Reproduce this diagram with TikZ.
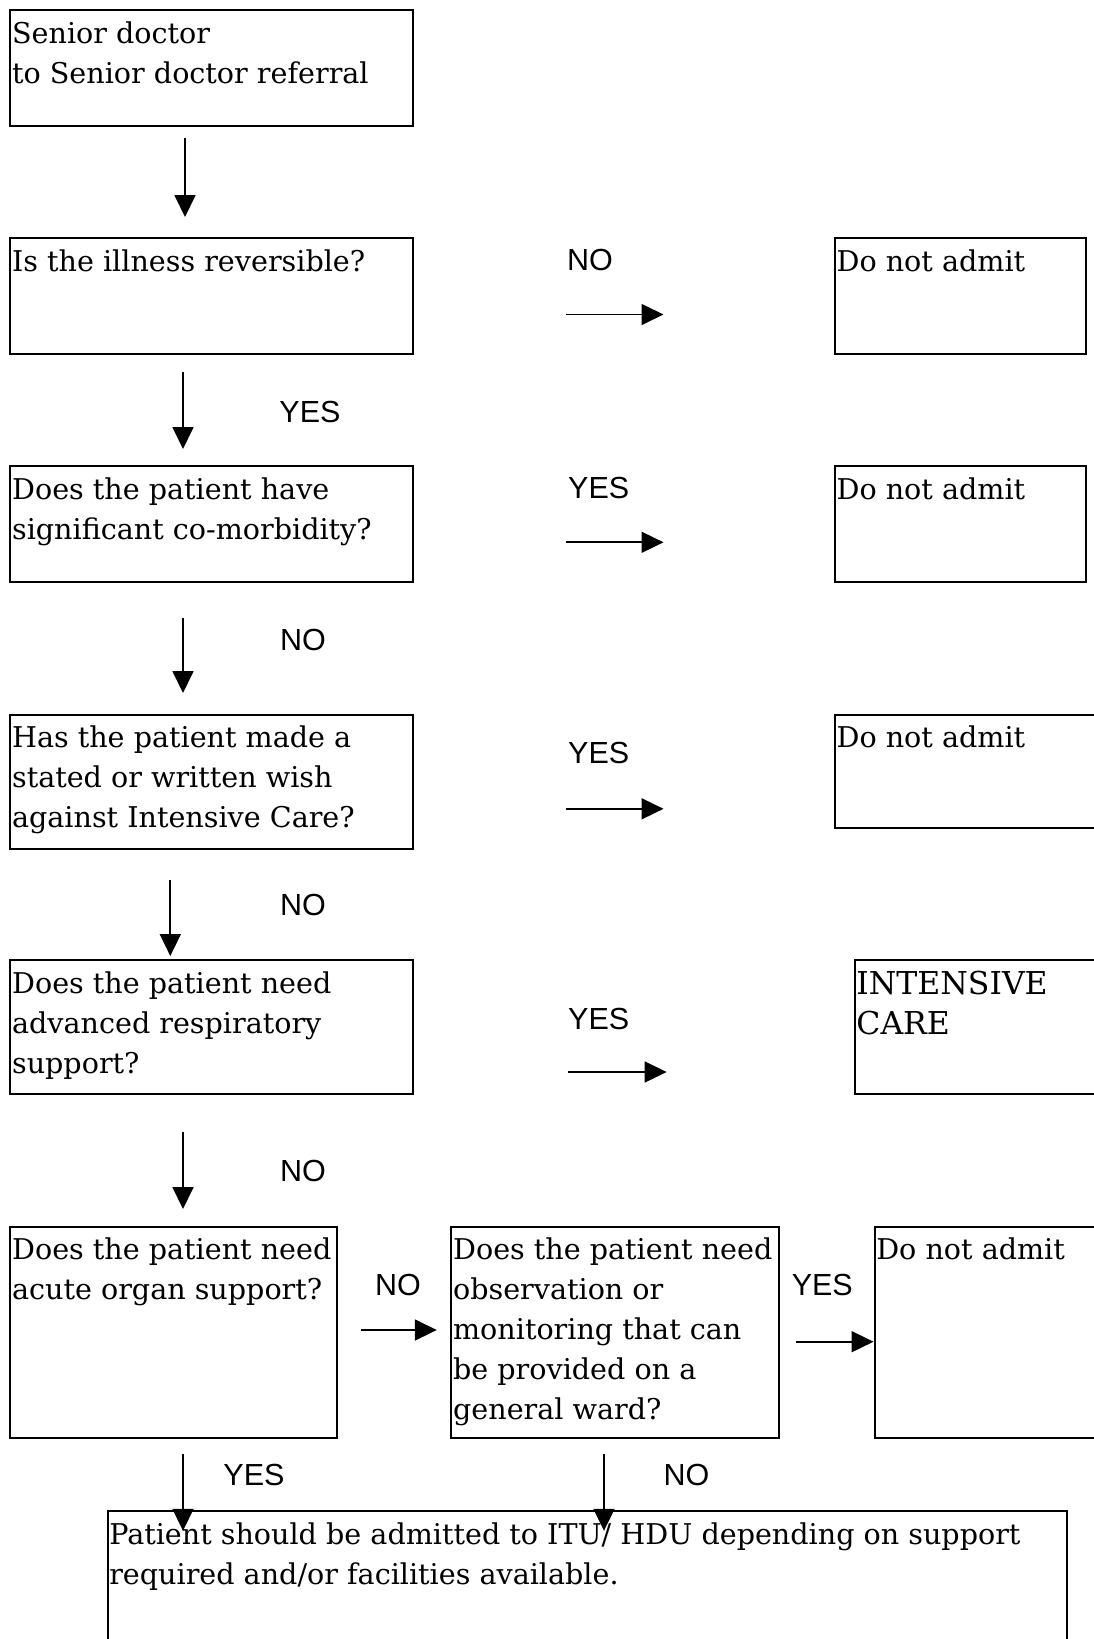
\documentclass[tikz,border=0pt]{standalone}
\usepackage{fontspec}
\setmainfont{DejaVu Serif}
\newfontfamily\labelfont{Liberation Sans}
\usetikzlibrary{arrows.meta}
\begin{document}
\begin{tikzpicture}[x=1pt,y=-1pt,
  box/.style={draw, line width=2pt, inner sep=0pt, outer sep=0pt, anchor=north west},
  txt/.style={anchor=north west, inner sep=0pt, xshift=1.5pt, align=left, font=\fontsize{28.6}{40}\selectfont},
  lbl/.style={font=\labelfont\fontsize{30.5}{34}\selectfont, inner sep=0pt},
  arr/.style={line width=1.8pt, -{Triangle[length=22pt,width=21pt]}}]
\clip (0,0) rectangle (1094,1639);
% boxes
\node[box, minimum width=402.3pt, minimum height=116pt] (b1) at (10.4,10.4) {};
\node[box, minimum width=402.3pt, minimum height=116pt] (b2) at (10.4,238.2) {};
\node[box, minimum width=402.3pt, minimum height=116pt] (b3) at (10.4,466) {};
\node[box, minimum width=402.3pt, minimum height=133.8pt] (b4) at (10.4,714.7) {};
\node[box, minimum width=402.3pt, minimum height=133.7pt] (b5) at (10.4,960.3) {};
\node[box, minimum width=326.1pt, minimum height=211.1pt] (b6) at (10.4,1226.7) {};
\node[box, minimum width=327.1pt, minimum height=211.1pt] (b7) at (451.4,1226.7) {};
\node[box, minimum width=300pt, minimum height=211.1pt] (b8) at (874.6,1226.7) {};
\node[box, minimum width=250.7pt, minimum height=116pt] (ra) at (834.9,238.2) {};
\node[box, minimum width=250.7pt, minimum height=116pt] (rb) at (834.9,466) {};
\node[box, minimum width=300pt, minimum height=113.5pt] (rc) at (834.9,714.7) {};
\node[box, minimum width=300pt, minimum height=133.7pt] (ic) at (854.7,960.3) {};
\node[box, minimum width=959.2pt, minimum height=200pt] (bot) at (107.6,1511) {};
% texts
\node[txt] (t1) at (b1.north west) {\rule{0pt}{33pt}Senior doctor\\to Senior doctor referral};
\node[txt] (t2) at (b2.north west) {\rule{0pt}{33pt}Is the illness reversible?};
\node[txt] (t3) at (b3.north west) {\rule{0pt}{33pt}Does the patient have\\significant co-morbidity?};
\node[txt] (t4) at (b4.north west) {\rule{0pt}{33pt}Has the patient made a\\stated or written wish\\against Intensive Care?};
\node[txt] (t5) at (b5.north west) {\rule{0pt}{33pt}Does the patient need\\advanced respiratory\\support?};
\node[txt] (t6) at (b6.north west) {\rule{0pt}{33pt}Does the patient need\\acute organ support?};
\node[txt] (t7) at (b7.north west) {\rule{0pt}{33pt}Does the patient need\\observation or\\monitoring that can\\be provided on a\\general ward?};
\node[txt] (t8) at (b8.north west) {\rule{0pt}{33pt}Do not admit};
\node[txt] (ta) at (ra.north west) {\rule{0pt}{33pt}Do not admit};
\node[txt] (tb) at (rb.north west) {\rule{0pt}{33pt}Do not admit};
\node[txt] (tc) at (rc.north west) {\rule{0pt}{33pt}Do not admit};
\node[txt, font=\fontsize{31.5}{40}\selectfont] (tic) at (ic.north west) {\rule{0pt}{34pt}INTENSIVE\\CARE};
\node[txt] (tbot) at (bot.north west) {\rule{0pt}{33pt}Patient should be admitted to ITU/ HDU depending on support\\required and/or facilities available.};
% labels
\node[lbl] (l1) at (590,260) {NO};
\node[lbl] (l2) at (310,411.7) {YES};
\node[lbl] (l3) at (598.7,488) {YES};
\node[lbl] (l4) at (303,639.5) {NO};
\node[lbl] (l5) at (598.7,753.4) {YES};
\node[lbl] (l6) at (303,905) {NO};
\node[lbl] (l7) at (598.7,1018.8) {YES};
\node[lbl] (l8) at (303,1171.3) {NO};
\node[lbl] (l9) at (398,1285) {NO};
\node[lbl] (l10) at (822.3,1285) {YES};
\node[lbl] (l11) at (254,1475.4) {YES};
\node[lbl] (l12) at (686.5,1475.4) {NO};
% arrow end points
\coordinate (a1s) at (185,138);   \coordinate (a1e) at (185,217);
\coordinate (a2s) at (183,372);   \coordinate (a2e) at (183,449);
\coordinate (a3s) at (183,617.5); \coordinate (a3e) at (183,693);
\coordinate (a4s) at (170.3,880); \coordinate (a4e) at (170.3,956);
\coordinate (a5s) at (183,1131.6);\coordinate (a5e) at (183,1209);
\coordinate (a6s) at (183,1453.5);\coordinate (a6e) at (183,1530.8);
\coordinate (a7s) at (604,1453.5);\coordinate (a7e) at (604,1530.8);
\coordinate (h1s) at (566,314.5); \coordinate (h1e) at (663.5,314.5);
\coordinate (h2s) at (566,542.3); \coordinate (h2e) at (663.5,542.3);
\coordinate (h3s) at (566,808.8); \coordinate (h3e) at (663.5,808.8);
\coordinate (h4s) at (568.4,1072);\coordinate (h4e) at (666.6,1072);
\coordinate (h5s) at (360.5,1330);\coordinate (h5e) at (436.8,1330);
\coordinate (h6s) at (796.2,1341.7);\coordinate (h6e) at (873.5,1341.7);
% arrows
\foreach \s/\e in {a1s/a1e,a2s/a2e,a3s/a3e,a4s/a4e,a5s/a5e,a6s/a6e,a7s/a7e,h1s/h1e,h2s/h2e,h3s/h3e,h4s/h4e,h5s/h5e,h6s/h6e}
  \draw[arr] (\s) -- (\e);
\end{tikzpicture}
\end{document}
